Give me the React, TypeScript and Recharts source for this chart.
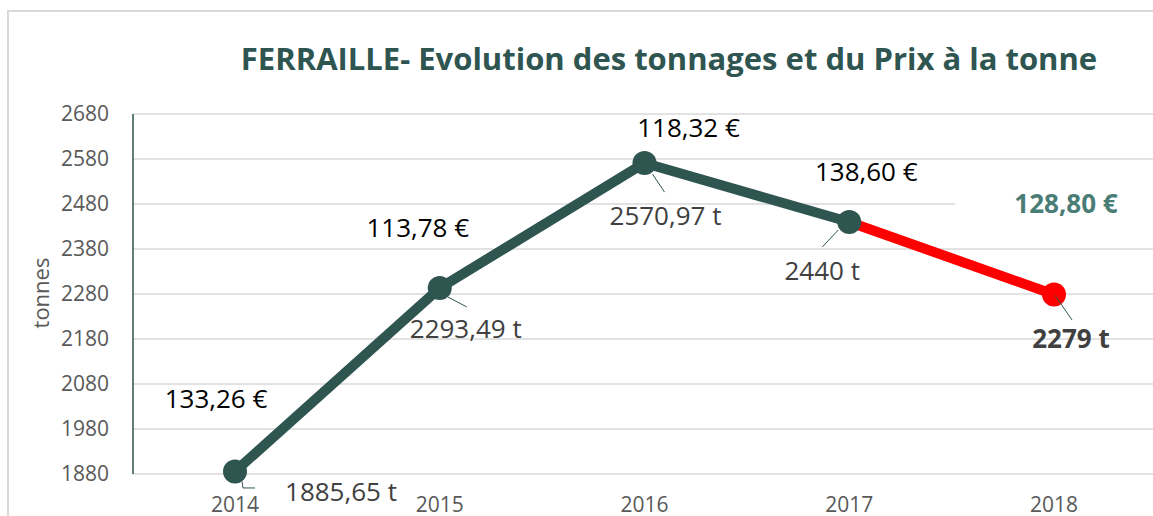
import { CartesianGrid, LabelList, Line, LineChart, XAxis, YAxis } from 'recharts';

const years = ['2014', '2015', '2016', '2017', '2018'];
const tonnages = [1885.65, 2293.49, 2570.97, 2440, 2279];
const prices = [133.26, 113.78, 118.32, 138.6, 128.8];
const yTicks = [1880, 1980, 2080, 2180, 2280, 2380, 2480, 2580, 2680];

// the 2018 figure is shown in red
const lastYear = '2018';

const colors = {
  line: '#2f5551',
  red: '#ff0000',
  grid: '#d9d9d9',
  tick: '#595959',
  tonnage: '#404040',
  lastPrice: '#4a7d76'
};

const font = '"Open Sans", sans-serif';

const fr = (v: number, digits: number) => v.toFixed(digits).replace('.', ',');

const rows = years.map((year, i) => ({
  year,
  all: tonnages[i],
  main: year === lastYear ? null : tonnages[i],
  red: i >= years.length - 2 ? tonnages[i] : null
}));

// label placement around each point (px, relative to the point)
const priceOffset = [
  [-19, -73],
  [-22, -61],
  [44, -36],
  [17, -51],
  [12, -91]
];
const tonnageOffset = [
  [106, 20],
  [26, 40],
  [21, 52],
  [-27, 48],
  [17, 44]
];
const leaders = [
  [[7, 10], [8, 16.5], [20, 16.5]],
  [[8, 9], [27, 19]],
  [[8, 11], [20, 29]],
  [[-11, 8], [-27, 25]],
  [[1, 1], [18, 25.5]]
];

function PointLabels(props: any) {
  const { x, y, index } = props;
  if (x == null || y == null) return null;
  const last = years[index] === lastYear;
  const [px, py] = priceOffset[index];
  const [tx, ty] = tonnageOffset[index];
  const pts = leaders[index].map(([dx, dy]) => `${x + dx},${y + dy}`).join(' ');
  const tVal = Number.isInteger(tonnages[index]) ? String(tonnages[index]) : fr(tonnages[index], 2);
  return (
    <g fontFamily={font}>
      <polyline points={pts} fill="none" stroke={colors.line} strokeWidth={1} />
      {last && <rect x={x - 99} y={y - 104} width={240} height={26} fill="#fff" />}
      <text
        x={x + px}
        y={y + py}
        textAnchor="middle"
        dominantBaseline="central"
        fontSize={26}
        fontWeight={last ? 700 : 400}
        fill={last ? colors.lastPrice : '#000'}
      >
        {fr(prices[index], 2)} €
      </text>
      <text
        x={x + tx}
        y={y + ty}
        textAnchor="middle"
        dominantBaseline="central"
        fontSize={26}
        fontWeight={last ? 700 : 400}
        fill={colors.tonnage}
      >
        {tVal} t
      </text>
    </g>
  );
}

function RedDot(props: any) {
  const { cx, cy, payload } = props;
  if (payload.year !== lastYear || cy == null) return null;
  return <circle cx={cx} cy={cy} r={12} fill={colors.red} />;
}

export default function App() {
  return (
    <div
      style={{
        position: 'fixed',
        left: 0,
        top: 0,
        width: 1153,
        height: 516,
        overflow: 'hidden',
        background: '#fff'
      }}
    >
      <div
        style={{
          position: 'absolute',
          left: 7,
          top: 10,
          width: 1300,
          height: 700,
          border: `2px solid ${colors.grid}`,
          boxSizing: 'border-box'
        }}
      />
      <div
        style={{
          position: 'absolute',
          left: 669,
          top: 37,
          transform: 'translateX(-50%)',
          whiteSpace: 'nowrap',
          fontFamily: font,
          fontWeight: 700,
          fontSize: 31,
          lineHeight: '42px',
          color: colors.line
        }}
      >
        FERRAILLE- Evolution des tonnages et du Prix à la tonne
      </div>
      <div style={{ position: 'absolute', left: 0, top: 0 }}>
        <LineChart
          width={1180}
          height={530}
          data={rows}
          margin={{ top: 114, right: 24, left: 63, bottom: 16 }}
        >
          <CartesianGrid horizontal vertical={false} stroke={colors.grid} strokeWidth={1.5} />
          <XAxis
            dataKey="year"
            padding={{ left: 102, right: 102 }}
            axisLine={false}
            tickLine={false}
            tickSize={0}
            tickMargin={23}
            height={40}
            tick={{ fill: colors.tick, fontSize: 21, fontFamily: font }}
          />
          <YAxis
            domain={[1880, 2680]}
            ticks={yTicks}
            width={70}
            axisLine={{ stroke: colors.line, strokeWidth: 1.5 }}
            tickLine={false}
            tickSize={0}
            tickMargin={24}
            tick={{ fill: colors.tick, fontSize: 21, fontFamily: font }}
            label={({ viewBox }: any) => (
              <text
                x={40}
                y={viewBox.y + viewBox.height / 2 - 1}
                transform={`rotate(-90, 40, ${viewBox.y + viewBox.height / 2 - 1})`}
                textAnchor="middle"
                dominantBaseline="central"
                fontFamily={font}
                fontSize={22}
                fill={colors.tick}
              >
                tonnes
              </text>
            )}
          />
          <Line
            dataKey="red"
            stroke={colors.red}
            strokeWidth={10}
            dot={<RedDot />}
            activeDot={false}
            connectNulls={false}
            isAnimationActive={false}
          />
          <Line
            dataKey="main"
            stroke={colors.line}
            strokeWidth={10}
            strokeLinejoin="round"
            dot={{ r: 12, fill: colors.line, stroke: 'none' }}
            activeDot={false}
            isAnimationActive={false}
          />
          <Line
            dataKey="all"
            stroke="none"
            dot={false}
            activeDot={false}
            isAnimationActive={false}
          >
            <LabelList dataKey="all" content={<PointLabels />} />
          </Line>
        </LineChart>
      </div>
    </div>
  );
}
